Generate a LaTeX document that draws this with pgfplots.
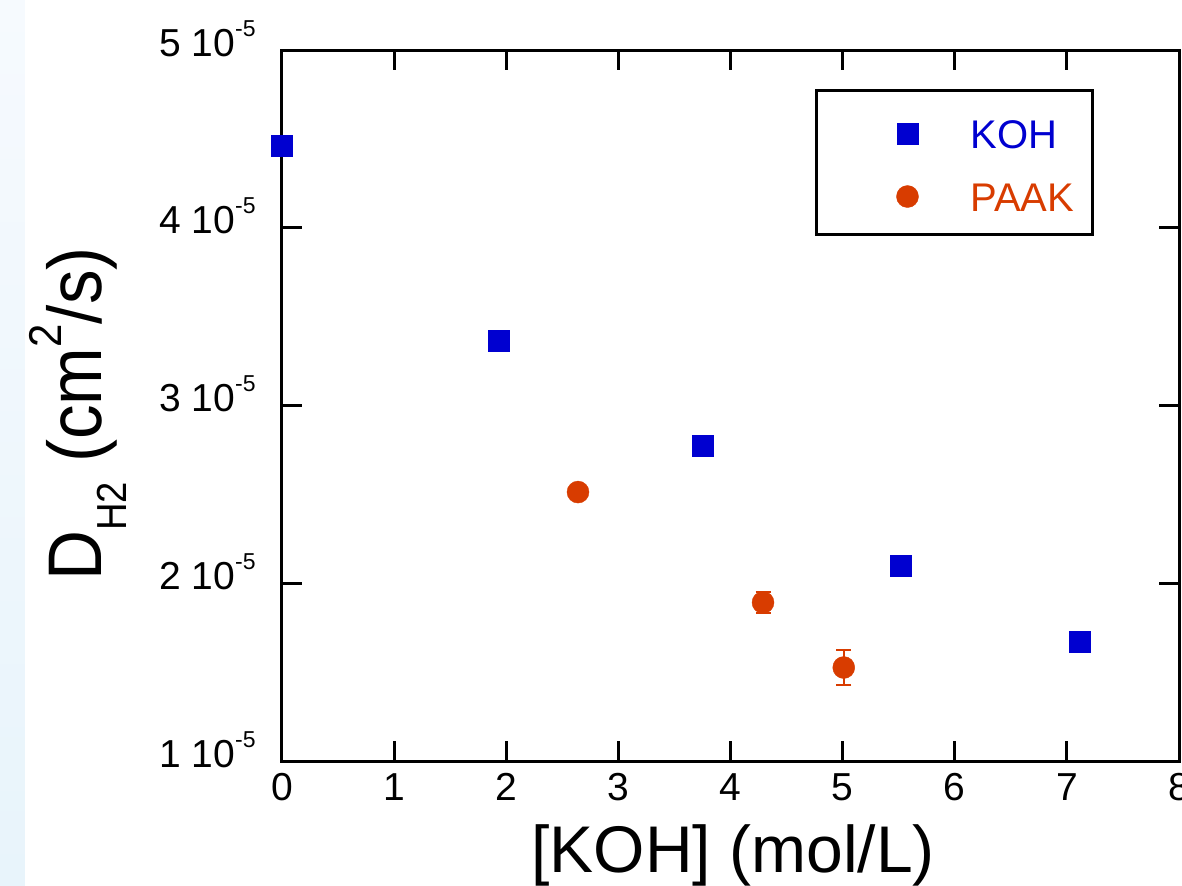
\documentclass[border=0pt]{standalone}
\usepackage{pgfplots}
\pgfplotsset{compat=1.18}
\usepackage{graphicx}
\usepackage{fontspec}
\setmainfont{Liberation Sans}
\definecolor{kblue}{RGB}{0,0,208}
\definecolor{kor}{RGB}{216,60,0}
\newcommand{\tl}[1]{#1 10\raisebox{10pt}{\fontsize{11.5}{12}\selectfont -5}}
\begin{document}
\begin{tikzpicture}
\shade[top color={rgb,255:red,246;green,250;blue,254}, bottom color={rgb,255:red,232;green,244;blue,251}] (-141pt,-62pt) rectangle (-128.5pt,380.5pt);
\begin{axis}[
  at={(0,0)}, anchor=south west,
  scale only axis, width=448.5pt, height=355.5pt,
  xmin=0, xmax=8, ymin=1, ymax=5,
  xtick={0,1,2,3,4,5,6,7,8},
  ytick={1,2,3,4,5},
  yticklabels={\tl{1},\tl{2},\tl{3},\tl{4},\tl{5}},
  /pgf/number format/assume math mode=true,
  tick align=inside,
  major tick length=10pt,
  minor tick num=0,
  every tick/.style={line width=1.5pt, black},
  axis line style={line width=1.5pt, black},
  tick label style={font=\fontsize{19.5}{21}\selectfont, inner sep=0pt},
  xticklabel style={anchor=base, yshift=-19.5pt},
  yticklabel style={anchor=base east, xshift=-13pt, yshift=-3pt},
  xlabel={[KOH] (mol/L)},
  xlabel style={at={(axis description cs:0.503,-0.1575)}, anchor=base, inner sep=0pt, font=\fontsize{33}{36}\selectfont},
  ylabel={\scalebox{0.91}[1]{D\raisebox{-12.5pt}{\fontsize{21}{21}\selectfont H2} (cm\raisebox{20pt}{\fontsize{23}{23}\selectfont 2}/s)}},
  ylabel style={at={(axis description cs:-0.2007,0.488)}, anchor=base, rotate=0, inner sep=0pt, font=\fontsize{38}{40}\selectfont},
  clip=false,
  legend style={at={(rel axis cs:0.5942,0.9451)}, anchor=north west, draw=black, line width=1.5pt, fill=white,
    inner xsep=2pt, inner ysep=4.5pt, row sep=0pt,
    font=\fontsize{20}{22}\selectfont,
    nodes={inner sep=0pt, text height=14.5pt, text depth=0pt, text width=59pt, align=left},
    /tikz/every odd column/.append style={column sep=26pt}},
  legend cell align=left,
  legend image code/.code={\path[draw=none,fill=none] (-43.5pt,-14.5pt) rectangle (5pt,17pt);
    \draw[mark repeat=2,mark phase=2,#1] plot coordinates {(-5pt,0pt) (0pt,0pt) (5pt,0pt)};},
]
\addplot[only marks, mark=square*, mark size=5.25pt, mark options={draw=kblue, fill=kblue, line width=0.2pt}] coordinates {
(0,4.463) (1.93,3.363) (3.75,2.772) (5.52,2.097) (7.11,1.669)
};
\addlegendentry{\textcolor{kblue}{KOH}}
\addplot[only marks, mark=*, mark size=5.5pt, mark options={draw=kor, fill=kor, line width=0.2pt},
  error bars/.cd, y dir=both, y explicit,
  error bar style={line width=0.75pt, kor},
  error mark options={rotate=90, mark size=3.75pt, line width=0.75pt, kor}]
  table[x=x, y=y, y error=e] {
x y e
2.64 2.513 0.02
4.29 1.892 0.059
5.01 1.526 0.098
};
\addlegendentry{\textcolor{kor}{PAAK}}
\end{axis}
\pgfresetboundingbox
\useasboundingbox (-141pt,-62pt) rectangle (450pt,380.5pt);
\end{tikzpicture}
\end{document}
